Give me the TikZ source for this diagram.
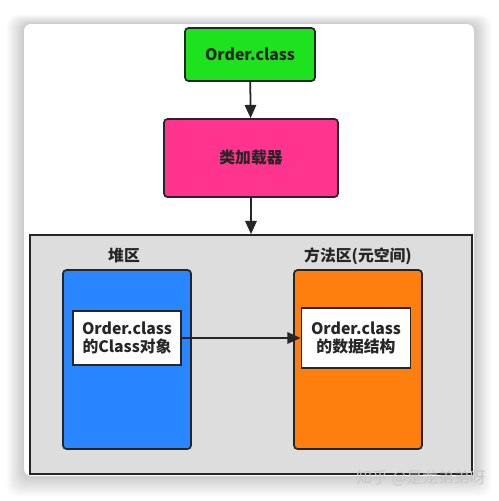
\documentclass[tikz,border=0pt]{standalone}
\usepackage{fontspec}
\setmainfont{Noto Sans CJK SC}
\usetikzlibrary{arrows.meta}

\definecolor{edgeclr}{RGB}{38,38,38}
\definecolor{fileclr}{RGB}{30,226,30}
\definecolor{loaderclr}{RGB}{255,52,142}
\definecolor{areaclr}{RGB}{221,221,221}
\definecolor{heapclr}{RGB}{42,134,255}
\definecolor{methodclr}{RGB}{255,127,14}

\tikzset{
  box/.style={draw=edgeclr, line width=1pt, rounded corners=2pt, font=\bfseries\small, text=edgeclr, inner sep=0pt},
  card/.style={draw=edgeclr, line width=1pt, fill=white, font=\bfseries\small, text=edgeclr, align=center, inner sep=0pt},
  arr/.style={-{Triangle[length=7.5pt,width=6.5pt]}, line width=1pt, draw=edgeclr}
}

\begin{document}
\begin{tikzpicture}[x=0.02cm, y=-0.02cm]
\useasboundingbox (0,0) rectangle (498,501);
\fill[white] (0,0) rectangle (498,501);
% soft shadow round the card
\foreach \i in {1,...,10}
  \fill[black, opacity=0.018, rounded corners=6pt] (24-\i*1.7, 24-\i*0.9) rectangle (474+\i*1.7, 476+\i*2);
\fill[white, rounded corners=4pt] (24,24) rectangle (474,476);

\node[box, fill=fileclr, minimum width=2.6cm, minimum height=1.06cm] (file) at (250,54.5) {Order.class};
\node[box, fill=loaderclr, minimum width=3.48cm, minimum height=1.56cm] (loader) at (251,158) {类加载器};
\node[draw=edgeclr, line width=1pt, fill=areaclr, minimum width=8.84cm, minimum height=4.78cm, inner sep=0pt] (area) at (251,354.5) {};

\node[font=\bfseries\small, text=edgeclr] (heaplbl) at (124,256) {堆区};
\node[font=\bfseries\small, text=edgeclr] (methodlbl) at (358,256) {方法区(元空间)};

\node[box, fill=heapclr, minimum width=2.56cm, minimum height=3.58cm] (heap) at (127,359.5) {};
\node[box, fill=methodclr, minimum width=2.56cm, minimum height=3.58cm] (method) at (358,359.5) {};

\node[card, minimum width=2.16cm, minimum height=1.08cm] (obj) at (127,338) {Order.class\\[-1pt]的Class对象};
\node[card, minimum width=2.18cm, minimum height=1.2cm] (data) at (356,338) {Order.class\\[-1pt]的数据结构};

\draw[arr] (file) -- (loader);
\draw[arr] (loader) -- (area);
\draw[arr] (obj) -- (data);

\node[text=black!22, font=\small] (mark) at (421,478) {知乎 @是龙弟弟呀};
\end{tikzpicture}
\end{document}
